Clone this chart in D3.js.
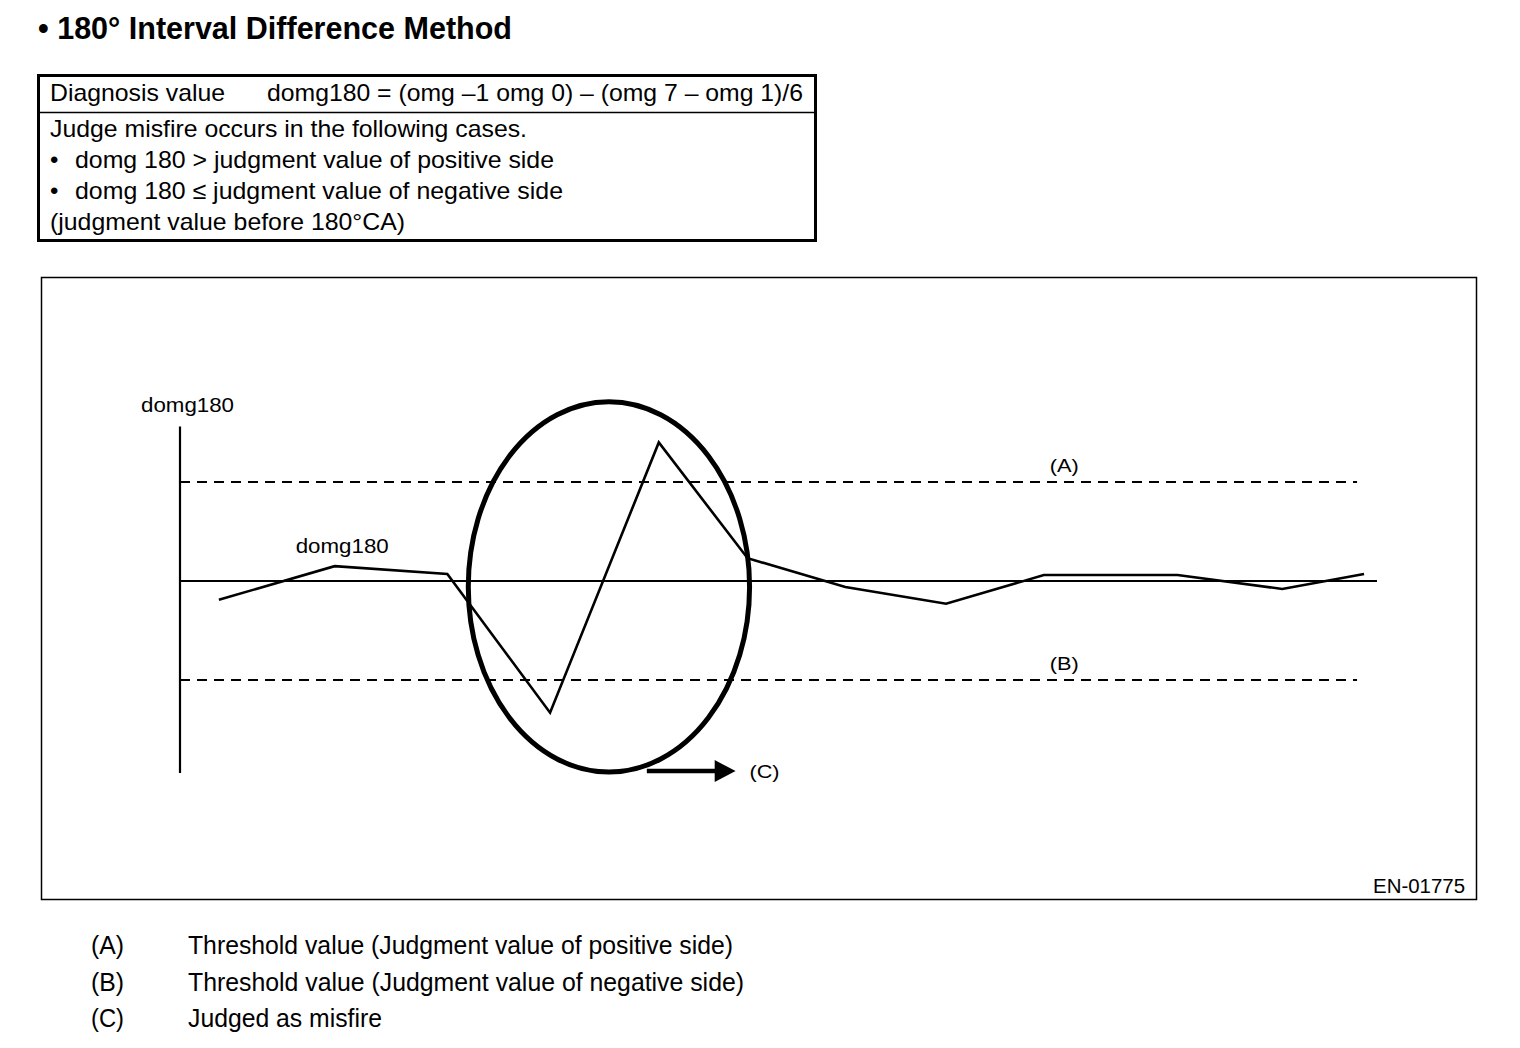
<!DOCTYPE html>
<html>
<head>
<meta charset="utf-8">
<script src="https://cdn.jsdelivr.net/npm/d3@7"></script>
<style>
  body { margin: 0; background: #fff; }
  text { font-family: "Liberation Sans", Arial, sans-serif; fill: #000; }
</style>
</head>
<body>
<div id="graf"></div>
<script>
// I. Datos
posiciones = [0.39, 1.55, 2.68, 3.71, 4.80, 5.69, 6.67, 7.68, 8.66, 10.0, 11.05, 11.87]
domg180 = [-0.19, 0.15, 0.07, -1.33, 1.40, 0.23, -0.06, -0.23, 0.06, 0.06, -0.08, 0.07]
umbrales = [1, -1]
etiquetasUmbral = ['(A)', '(B)']
filasCuadro = [
  'Judge misfire occurs in the following cases.',
  'domg 180 > judgment value of positive side',
  'domg 180 \u2264 judgment value of negative side',
  '(judgment value before 180\u00b0CA)'
]
leyendaClaves = ['(A)', '(B)', '(C)']
leyendaTextos = [
  'Threshold value (Judgment value of positive side)',
  'Threshold value (Judgment value of negative side)',
  'Judged as misfire'
]

// II. Configuración
ancho_total = 1520
alto_total = 1048

svg = d3.select('#graf').append('svg')
        .attr('width', ancho_total)
        .attr('height', alto_total)

// Título
svg.append('text')
   .attr('x', 38).attr('y', 39)
   .style('font-size', '31px').style('font-weight', 'bold')
   .attr('textLength', 474).attr('lengthAdjust', 'spacingAndGlyphs')
   .text('\u2022 180\u00b0 Interval Difference Method')

// Cuadro de diagnóstico
svg.append('rect')
   .attr('x', 38.5).attr('y', 75.5).attr('width', 777).attr('height', 165)
   .attr('fill', 'none').attr('stroke', '#000').attr('stroke-width', 3)
svg.append('line')
   .attr('x1', 38).attr('x2', 816).attr('y1', 112.5).attr('y2', 112.5)
   .attr('stroke', '#000').attr('stroke-width', 1.5)

svg.append('text')
   .attr('x', 50).attr('y', 101).style('font-size', '24px')
   .attr('textLength', 175).attr('lengthAdjust', 'spacingAndGlyphs')
   .text('Diagnosis value')
svg.append('text')
   .attr('x', 267).attr('y', 101).style('font-size', '24px')
   .attr('textLength', 536).attr('lengthAdjust', 'spacingAndGlyphs')
   .text('domg180 = (omg \u20131 omg 0) \u2013 (omg 7 \u2013 omg 1)/6')

anchosFila = [477, 479, 488, 355]
filasCuadro.forEach((t, i) => {
  bullet = (i == 1 || i == 2)
  if (bullet) {
    svg.append('text').attr('x', 50).attr('y', 137 + i * 31)
       .style('font-size', '24px').text('\u2022')
  }
  svg.append('text')
     .attr('x', bullet ? 75 : 50).attr('y', 137 + i * 31)
     .style('font-size', '24px')
     .attr('textLength', anchosFila[i]).attr('lengthAdjust', 'spacingAndGlyphs')
     .text(t)
})

// Marco del gráfico
svg.append('rect')
   .attr('x', 41.5).attr('y', 277.5).attr('width', 1435).attr('height', 622)
   .attr('fill', 'none').attr('stroke', '#000').attr('stroke-width', 1.5)

svg.append('text')
   .attr('x', 1465).attr('y', 893).attr('text-anchor', 'end')
   .style('font-size', '20px')
   .attr('textLength', 92).attr('lengthAdjust', 'spacingAndGlyphs')
   .text('EN-01775')

// III. Escaladores
x = d3.scaleLinear().domain([0, 12]).range([180, 1377])
y = d3.scaleLinear().domain([-1, 1]).range([680, 482])

g = svg.append('g')

// Eje vertical
g.append('line')
 .attr('x1', x(0)).attr('x2', x(0))
 .attr('y1', y(1.56)).attr('y2', y(-1.94))
 .attr('stroke', '#000').attr('stroke-width', 2.2)

// Línea cero
g.append('line')
 .attr('x1', x(0)).attr('x2', x(12))
 .attr('y1', y(0)).attr('y2', y(0))
 .attr('stroke', '#000').attr('stroke-width', 2)

g.append('text')
 .attr('x', x(0) - 39).attr('y', y(1.56) - 15)
 .style('font-size', '20px')
 .attr('textLength', 93).attr('lengthAdjust', 'spacingAndGlyphs')
 .text('domg180')

// Umbrales
g.selectAll('.umbral')
 .data(umbrales)
 .enter().append('line')
   .attr('class', 'umbral')
   .attr('x1', x(0)).attr('x2', x(11.8))
   .attr('y1', d => y(d)).attr('y2', d => y(d))
   .attr('stroke', '#000').attr('stroke-width', 1.8)
   .attr('stroke-dasharray', '10,7')

g.selectAll('.etq-umbral')
 .data(umbrales)
 .enter().append('text')
   .attr('class', 'etq-umbral')
   .attr('x', x(8.72)).attr('y', d => y(d) - 10)
   .style('font-size', '19px')
   .attr('textLength', 29).attr('lengthAdjust', 'spacingAndGlyphs')
   .text((d, i) => etiquetasUmbral[i])

// Curva domg180
puntos = posiciones.map((p, i) => [p, domg180[i]])
linea = d3.line().x(d => x(d[0])).y(d => y(d[1]))

g.append('path')
 .datum(puntos)
 .attr('d', linea)
 .attr('fill', 'none')
 .attr('stroke', '#000').attr('stroke-width', 2.6)
 .attr('stroke-linejoin', 'miter')

g.append('text')
 .attr('x', x(1.16)).attr('y', y(0.15) - 13)
 .style('font-size', '20px')
 .attr('textLength', 93).attr('lengthAdjust', 'spacingAndGlyphs')
 .text('domg180')

// Elipse de fallo
g.append('ellipse')
 .attr('cx', x(4.30)).attr('cy', y(-0.06))
 .attr('rx', x(1.41) - x(0)).attr('ry', y(0) - y(1.87))
 .attr('fill', 'none').attr('stroke', '#000').attr('stroke-width', 5)

// Flecha (C)
flechaY = y(-1.92)
g.append('line')
 .attr('x1', x(4.68)).attr('x2', x(5.4))
 .attr('y1', flechaY).attr('y2', flechaY)
 .attr('stroke', '#000').attr('stroke-width', 4.5)
g.append('path')
 .attr('d', `M${x(5.36)},${flechaY - 11}L${x(5.57)},${flechaY}L${x(5.36)},${flechaY + 11}Z`)
 .attr('fill', '#000')
g.append('text')
 .attr('x', x(5.71)).attr('y', flechaY + 7)
 .style('font-size', '19px')
 .attr('textLength', 30).attr('lengthAdjust', 'spacingAndGlyphs')
 .text('(C)')

// Leyenda
leyendaClaves.forEach((k, i) => {
  svg.append('text')
     .attr('x', 91).attr('y', 954 + i * 36.5)
     .style('font-size', '25px')
     .attr('textLength', 33).attr('lengthAdjust', 'spacingAndGlyphs')
     .text(k)
})
anchosLeyenda = [545, 556, 194]
leyendaTextos.forEach((t, i) => {
  svg.append('text')
     .attr('x', 188).attr('y', 954 + i * 36.5)
     .style('font-size', '25px')
     .attr('textLength', anchosLeyenda[i]).attr('lengthAdjust', 'spacingAndGlyphs')
     .text(t)
})
</script>
</body>
</html>
